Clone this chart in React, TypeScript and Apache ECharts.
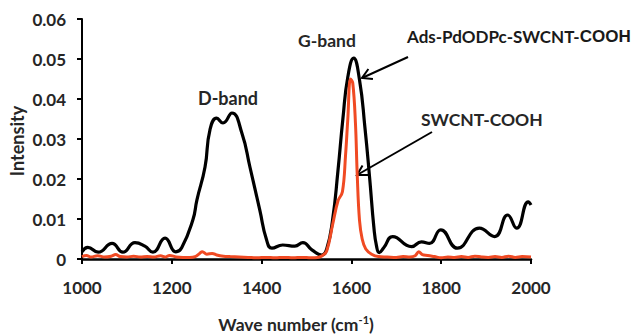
import React, { useEffect, useRef } from "react";
import * as echarts from "echarts";

const blackSeries: [number, number][] = [
  [1000, 0.0018], [1013, 0.0029], [1036, 0.0017], [1067, 0.0039], [1091, 0.0017],
  [1118, 0.0041], [1140, 0.0032], [1158, 0.0017], [1185, 0.0052], [1209, 0.0018],
  [1222, 0.0028], [1247, 0.0098], [1256, 0.0148], [1274, 0.023], [1285, 0.0323],
  [1300, 0.0352], [1314, 0.034], [1334, 0.0365], [1356, 0.0315], [1374, 0.023],
  [1396, 0.0122], [1411, 0.0048], [1423, 0.0027], [1447, 0.0035], [1474, 0.0032],
  [1492, 0.0041], [1512, 0.0023], [1534, 0.001], [1545, 0.0025], [1558, 0.0097],
  [1570, 0.022], [1581, 0.035], [1592, 0.0455], [1605, 0.0502], [1618, 0.0448],
  [1630, 0.033], [1641, 0.0198], [1650, 0.008], [1656, 0.0032], [1662, 0.0016],
  [1672, 0.0028], [1692, 0.0056], [1734, 0.0031], [1756, 0.0043], [1774, 0.0039],
  [1799, 0.0073], [1836, 0.0027], [1885, 0.0077], [1919, 0.0056], [1948, 0.011],
  [1968, 0.0077], [1994, 0.0143], [2000, 0.0135],
];

const redSeries: [number, number][] = [
  [1000, 0.0006], [1010, 0.0009], [1020, 0.0005], [1035, 0.0008], [1050, 0.0005],
  [1065, 0.0007], [1075, 0.0011], [1085, 0.0006], [1100, 0.0005], [1115, 0.0007],
  [1130, 0.0005], [1145, 0.0006], [1160, 0.0005], [1175, 0.0008], [1185, 0.0005],
  [1195, 0.0009], [1210, 0.0005], [1225, 0.0004], [1240, 0.0004], [1252, 0.0006],
  [1262, 0.0014], [1268, 0.0018], [1278, 0.0012], [1290, 0.0014], [1300, 0.001],
  [1315, 0.0007], [1330, 0.0006], [1350, 0.0005], [1370, 0.0004], [1390, 0.0003],
  [1410, 0.0004], [1430, 0.0003], [1450, 0.0004], [1470, 0.0003], [1490, 0.0004],
  [1510, 0.0003], [1525, 0.0004], [1535, 0.0008], [1545, 0.002], [1558, 0.0085],
  [1570, 0.0145], [1580, 0.0168], [1587, 0.026], [1592, 0.035], [1598, 0.045],
  [1603, 0.044], [1609, 0.034], [1613, 0.021], [1618, 0.0097], [1624, 0.005],
  [1632, 0.0025], [1645, 0.0012], [1660, 0.0006], [1680, 0.0005], [1700, 0.0004],
  [1715, 0.0006], [1730, 0.0005], [1742, 0.0008], [1750, 0.0018], [1758, 0.0011],
  [1770, 0.0009], [1785, 0.0006], [1800, 0.0003], [1815, 0.0005], [1830, 0.0004],
  [1845, 0.0006], [1860, 0.0004], [1875, 0.0007], [1890, 0.0005], [1905, 0.0004],
  [1920, 0.0006], [1935, 0.0004], [1950, 0.0007], [1965, 0.0004], [1980, 0.0006],
  [2000, 0.0005],
];

const xTicks = { min: 1000, max: 2000, interval: 200 };
const yTicks = { min: 0, max: 0.06, interval: 0.01 };

const seriesNames = ["Ads-PdODPc-SWCNT-COOH", "SWCNT-COOH"];

const TEXT = "#262626";
const RED = "#F04A23";

function arrow(sx: number, sy: number, tx: number, ty: number) {
  const dx = tx - sx;
  const dy = ty - sy;
  const len = Math.sqrt(dx * dx + dy * dy);
  const ux = dx / len;
  const uy = dy / len;
  const hl = 11;
  const ang = Math.PI / 6;
  const w1x = tx - hl * (ux * Math.cos(ang) - uy * Math.sin(ang));
  const w1y = ty - hl * (uy * Math.cos(ang) + ux * Math.sin(ang));
  const w2x = tx - hl * (ux * Math.cos(-ang) - uy * Math.sin(-ang));
  const w2y = ty - hl * (uy * Math.cos(-ang) + ux * Math.sin(-ang));
  return [
    { type: "line", shape: { x1: sx, y1: sy, x2: tx, y2: ty }, style: { stroke: "#000", lineWidth: 2 } },
    {
      type: "polyline",
      shape: { points: [[w1x, w1y], [tx, ty], [w2x, w2y]] },
      style: { stroke: "#000", lineWidth: 2, fill: "none" },
    },
  ];
}

export default function App() {
  const ref = useRef<HTMLDivElement>(null);
  useEffect(() => {
    if (!ref.current) return;
    const chart = echarts.init(ref.current, null, { renderer: "svg" });
    const font = "Lato";
    chart.setOption({
      animation: false,
      backgroundColor: "#fff",
      grid: { left: 82, right: 104, top: 19, bottom: 76 },
      xAxis: {
        type: "value",
        min: xTicks.min,
        max: xTicks.max,
        interval: xTicks.interval,
        splitLine: { show: false },
        axisLine: { lineStyle: { color: "#000", width: 2.5 } },
        axisTick: { show: true, inside: false, length: 5, lineStyle: { color: "#000", width: 2 } },
        axisLabel: {
          color: TEXT,
          fontFamily: font,
          fontWeight: "bold",
          fontSize: 17,
          margin: 20,
          formatter: (v: number) => String(v),
        },
      },
      yAxis: {
        type: "value",
        min: yTicks.min,
        max: yTicks.max,
        interval: yTicks.interval,
        splitLine: { show: false },
        axisLine: { show: true, lineStyle: { color: "#000", width: 2 } },
        axisTick: { show: true, inside: false, length: 5, lineStyle: { color: "#000", width: 2 } },
        axisLabel: {
          color: TEXT,
          fontFamily: font,
          fontWeight: "bold",
          fontSize: 17,
          margin: 16,
          formatter: (v: number) => (v === 0 ? "0" : v.toFixed(2)),
        },
      },
      series: [
        {
          name: seriesNames[0],
          type: "line",
          data: blackSeries,
          showSymbol: false,
          smooth: 0.5,
          lineStyle: { color: "#000", width: 3.2 },
          z: 2,
        },
        {
          name: seriesNames[1],
          type: "line",
          data: redSeries,
          showSymbol: false,
          smooth: 0.4,
          lineStyle: { color: RED, width: 3 },
          z: 3,
        },
      ],
      graphic: [
        {
          type: "text",
          x: 17,
          y: 141,
          rotation: Math.PI / 2,
          style: {
            text: "Intensity",
            fill: TEXT,
            font: `bold 18px ${font}`,
            align: "center",
            verticalAlign: "middle",
          },
        },
        {
          type: "text",
          x: 296,
          y: 324,
          style: {
            text: "Wave number (cm{sup|-1})",
            fill: TEXT,
            font: `bold 17.5px ${font}`,
            align: "center",
            verticalAlign: "middle",
            rich: {
              sup: { fontSize: 11, fontWeight: "bold", fontFamily: font, fill: TEXT, verticalAlign: "top", lineHeight: 20 },
            },
          },
        },
        {
          type: "text",
          x: 228,
          y: 98,
          style: { text: "D-band", fill: TEXT, font: `bold 18px ${font}`, align: "center", verticalAlign: "middle" },
        },
        {
          type: "text",
          x: 327,
          y: 40,
          style: { text: "G-band", fill: TEXT, font: `bold 17.5px ${font}`, align: "center", verticalAlign: "middle" },
        },
        {
          type: "text",
          x: 407,
          y: 36,
          style: {
            text: "{a|Ads-PdODPc-SWCNT-}{b|COOH}",
            fill: "#1a1a1a",
            align: "left",
            verticalAlign: "middle",
            rich: {
              a: { fontFamily: font, fontWeight: "bold", fontSize: 17, fill: "#1a1a1a" },
              b: { fontFamily: "Liberation Sans", fontWeight: "bold", fontSize: 17, fill: "#1a1a1a" },
            },
          },
        },
        {
          type: "text",
          x: 421,
          y: 119,
          style: { text: "SWCNT-COOH", fill: TEXT, font: `bold 17.5px ${font}`, align: "left", verticalAlign: "middle" },
        },
        ...arrow(408, 57, 362, 78),
        ...arrow(432, 132, 357, 175),
      ],
    });
    return () => chart.dispose();
  }, []);
  return (
    <div
      ref={ref}
      style={{ position: "fixed", left: 0, top: 0, width: 635, height: 335, background: "#fff" }}
    />
  );
}
